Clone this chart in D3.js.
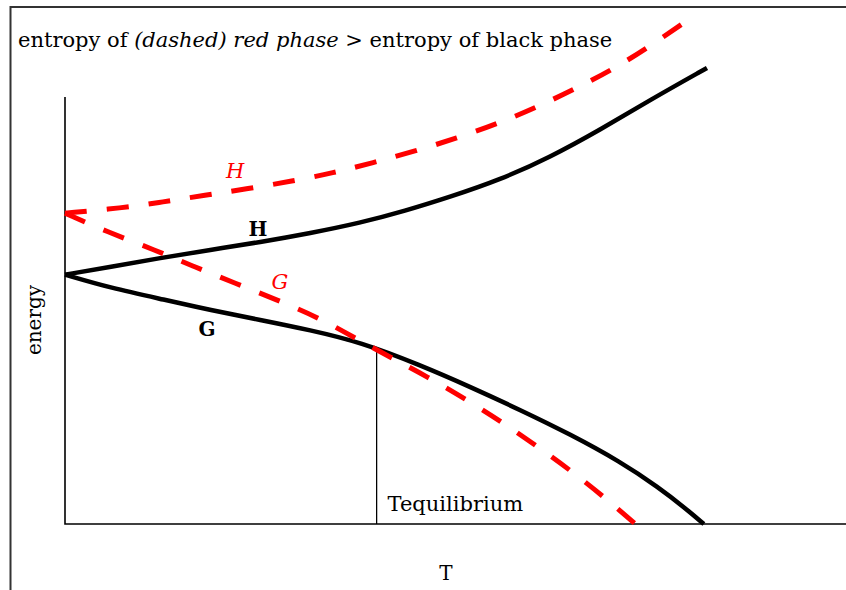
<!DOCTYPE html>
<html>
<head>
<meta charset="utf-8">
<script src="https://cdn.jsdelivr.net/npm/d3@7"></script>
<style>
  body { margin: 0; background: #fff; }
  text { font-family: "DejaVu Serif", serif; }
</style>
</head>
<body>
<div class="chart"></div>
<script>
// Curves, T (0-100) against energy (0-100)
const blackH = [
  [0, 58.4], [5.8, 60.2], [12.2, 62.3], [18.6, 64.2], [25.0, 66.0], [31.4, 68.1],
  [37.8, 70.5], [43.5, 73.3], [49.3, 76.6], [55.7, 80.6], [62.1, 85.9], [68.5, 92.3],
  [74.9, 99.3], [82.2, 106.8]
];
const blackG = [
  [0, 58.4], [5.8, 55.3], [12.8, 52.5], [18.6, 50.1], [25.0, 47.8], [31.4, 45.4],
  [37.8, 42.6], [45.5, 37.2], [51.9, 32.1], [58.3, 26.7],
  [64.7, 21.0], [71.1, 14.6], [76.0, 8.6], [79.5, 3.6], [81.8, 0]
];
const redH = [
  [0, 72.8], [7.3, 74.0], [12.5, 75.4], [17.9, 77.0], [23.4, 78.5],
  [29.1, 80.3], [34.3, 82.2], [39.4, 84.6], [44.8, 87.3], [50.2, 90.4],
  [55.3, 93.7], [60.4, 97.6], [65.3, 101.9], [70.2, 106.5], [74.9, 111.9], [80.7, 119.2]
];
const redG = [
  [0, 72.8], [5.4, 68.4], [11.5, 64.2], [16.6, 60.2], [21.8, 56.4],
  [27.1, 52.5], [32.3, 48.5], [36.9, 43.8], [41.6, 39.1], [46.4, 34.5],
  [51.5, 29.0], [56.1, 23.7], [60.6, 18.0], [65.0, 12.2], [69.5, 5.6], [73.6, -0.9]
];
const tEquilibrium = 39.9;
const eEquilibrium = 41.2;

const W = 846, H = 590;

const svg = d3.select(".chart").append("svg")
    .attr("width", W)
    .attr("height", H);

// scales
const x = d3.scaleLinear().domain([0, 100]).range([65, 846]);
const y = d3.scaleLinear().domain([0, 100]).range([524, 97]);

// outer frame (left and top only)
svg.append("path")
    .attr("d", `M10.5,${H} V7 H${W}`)
    .attr("fill", "none")
    .attr("stroke", "#333")
    .attr("stroke-width", 2);

// axes: plain lines, no ticks
svg.append("path")
    .attr("d", `M${x(0)},${y(100)} V${y(0)} H${x(100)}`)
    .attr("fill", "none")
    .attr("stroke", "#000")
    .attr("stroke-width", 1.6);

// Tequilibrium drop line
svg.append("line")
    .attr("x1", x(tEquilibrium)).attr("x2", x(tEquilibrium))
    .attr("y1", y(eEquilibrium)).attr("y2", y(0))
    .attr("stroke", "#000")
    .attr("stroke-width", 1.3);

const line = d3.line()
    .x(d => x(d[0]))
    .y(d => y(d[1]))
    .curve(d3.curveBasis);

// black (solid) phase
[blackH, blackG].forEach(s => {
  svg.append("path")
      .datum(s)
      .attr("d", line)
      .attr("fill", "none")
      .attr("stroke", "#000")
      .attr("stroke-width", 4.5);
});

// red (dashed) phase
[redH, redG].forEach(s => {
  svg.append("path")
      .datum(s)
      .attr("d", line)
      .attr("fill", "none")
      .attr("stroke", "#ff0000")
      .attr("stroke-width", 5)
      .attr("stroke-dasharray", "22,20");
});

// curve labels
svg.append("text").attr("x", x(21.8)).attr("y", y(81))
    .attr("text-anchor", "middle").attr("fill", "#ff0000")
    .style("font-style", "italic").style("font-size", "21px").text("H");
svg.append("text").attr("x", x(27.5)).attr("y", y(55))
    .attr("text-anchor", "middle").attr("fill", "#ff0000")
    .style("font-style", "italic").style("font-size", "21px").text("G");
svg.append("text").attr("x", x(24.7)).attr("y", y(67.4))
    .attr("text-anchor", "middle")
    .style("font-weight", "bold").style("font-size", "20px").text("H");
svg.append("text").attr("x", x(18.2)).attr("y", y(44))
    .attr("text-anchor", "middle")
    .style("font-weight", "bold").style("font-size", "20px").text("G");

svg.append("text").attr("x", x(41.3)).attr("y", y(3))
    .style("font-size", "21px").text("Tequilibrium");

// axis titles
svg.append("text").attr("x", 446).attr("y", 580)
    .attr("text-anchor", "middle").style("font-size", "20px").text("T");
svg.append("text")
    .attr("transform", "translate(41,320) rotate(-90)")
    .attr("text-anchor", "middle").style("font-size", "20px").text("energy");

// heading
const title = svg.append("text").attr("x", 18).attr("y", 47).style("font-size", "21px");
title.append("tspan").text("entropy of ");
title.append("tspan").style("font-style", "italic").text("(dashed) red phase");
title.append("tspan").text(" > entropy of black phase");
</script>
</body>
</html>
